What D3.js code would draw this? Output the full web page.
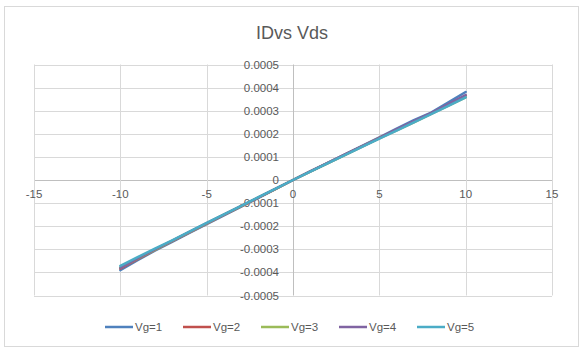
<!DOCTYPE html>
<html><head><meta charset="utf-8">
<script src="https://cdn.jsdelivr.net/npm/d3@7"></script>
<style>body{margin:0;background:#fff}svg{display:block}text{font-family:"Liberation Sans",Arial,sans-serif;fill:#595959}</style>
</head><body><svg id="c" width="584" height="355"></svg>
<script>
const vds = [-10,-9,-8,-7,-6,-5,-4,-3,-2,-1,0,1,2,3,4,5,6,7,8,9,10];
const vg1 = [-0.000390,-0.000347,-0.000306,-0.000268,-0.000229,-0.000191,-0.000153,-0.000115,-0.000077,-0.000039,0,0.000037,0.000074,0.000111,0.000148,0.000184,0.000222,0.000259,0.000292,0.000336,0.000381];
const vg2 = [-0.000384,-0.000343,-0.000303,-0.000265,-0.000227,-0.000189,-0.000151,-0.000114,-0.000076,-0.000038,0,0.000037,0.000073,0.000110,0.000146,0.000182,0.000218,0.000253,0.000288,0.000326,0.000365];
const vg3 = [-0.000379,-0.000340,-0.000302,-0.000264,-0.000226,-0.000188,-0.000150,-0.000113,-0.000075,-0.000038,0,0.000036,0.000072,0.000108,0.000144,0.000180,0.000215,0.000250,0.000286,0.000322,0.000358];
const vg4 = [-0.000381,-0.000339,-0.000300,-0.000263,-0.000225,-0.000187,-0.000150,-0.000112,-0.000075,-0.000037,0,0.000037,0.000073,0.000110,0.000146,0.000181,0.000219,0.000255,0.000290,0.000328,0.000368];
const vg5 = [-0.000372,-0.000334,-0.000297,-0.000261,-0.000224,-0.000186,-0.000149,-0.000112,-0.000074,-0.000037,0,0.000036,0.000072,0.000108,0.000143,0.000179,0.000214,0.000249,0.000285,0.000321,0.000358];
const seriesNames = ["Vg=1","Vg=2","Vg=3","Vg=4","Vg=5"];
const seriesData = [vg1,vg2,vg3,vg4,vg5];
const colors = ["#4F81BD","#C0504D","#9BBB59","#8064A2","#4BACC6"];
const xTicks = [-15,-10,-5,0,5,10,15];
const yTicks = [-0.0005,-0.0004,-0.0003,-0.0002,-0.0001,0,0.0001,0.0002,0.0003,0.0004,0.0005];
const title = "IDvs Vds";

const svg = d3.select("#c");
svg.append("rect").attr("x",4.5).attr("y",6.5).attr("width",574).attr("height",340)
  .attr("fill","#fff").attr("stroke","#D9D9D9").attr("stroke-width",1);

const x = d3.scaleLinear().domain([-15,15]).range([34,552]);
const y = d3.scaleLinear().domain([-0.0005,0.0005]).range([295.5,64.5]);

const g = svg.append("g");
g.selectAll(".hg").data(yTicks).join("line")
  .attr("x1",x(-15)).attr("x2",x(15))
  .attr("y1",d=>Math.round(y(d))+0.5).attr("y2",d=>Math.round(y(d))+0.5)
  .attr("stroke",d=>d===0?"#BFBFBF":"#D9D9D9").attr("stroke-width",1);
g.selectAll(".vg").data(xTicks).join("line")
  .attr("y1",y(0.0005)).attr("y2",y(-0.0005))
  .attr("x1",d=>Math.round(x(d))+0.5).attr("x2",d=>Math.round(x(d))+0.5)
  .attr("stroke",d=>d===0?"#BFBFBF":"#D9D9D9").attr("stroke-width",1);

g.selectAll(".yl").data(yTicks).join("text")
  .attr("x",x(0)-14).attr("y",d=>y(d)+4)
  .attr("text-anchor","end").attr("font-size",11.5)
  .text(d=>d===0?"0":d3.format(".4f")(d).replace("−","-"));
g.selectAll(".xl").data(xTicks).join("text")
  .attr("x",d=>x(d)).attr("y",y(0)+18)
  .attr("text-anchor","middle").attr("font-size",11.5)
  .text(d=>String(d));

const line = d3.line().x((d,i)=>x(vds[i])).y(d=>y(d));
seriesData.forEach((s,k)=>{
  g.append("path").datum(s).attr("d",line).attr("fill","none")
   .attr("stroke",colors[k]).attr("stroke-width",2.5).attr("stroke-linejoin","round").attr("stroke-linecap","round");
});

svg.append("text").attr("x",292).attr("y",39).attr("text-anchor","middle")
  .attr("font-size",18).text(title);

const lg = svg.append("g");
seriesNames.forEach((n,k)=>{
  const lx = 105 + k*78;
  lg.append("line").attr("x1",lx).attr("x2",lx+28).attr("y1",327).attr("y2",327)
    .attr("stroke",colors[k]).attr("stroke-width",2.5);
  lg.append("text").attr("x",lx+30).attr("y",331).attr("font-size",11.5).text(n);
});
</script></body></html>
